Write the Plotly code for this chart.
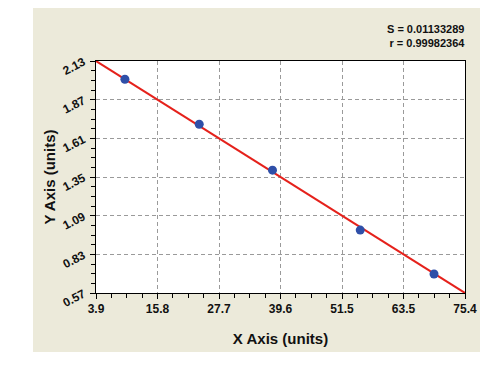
import plotly.graph_objects as go

# ---- data ----
x_vals = [9.5, 23.9, 38.1, 55.1, 69.4]
y_vals = [2.007, 1.705, 1.396, 0.993, 0.698]
fit_x = [3.9, 75.4]
fit_y = [2.13, 0.57]
x_ticks = [3.9, 15.8167, 27.7333, 39.65, 51.5667, 63.4833, 75.4]
x_ticklabels = ["3.9", "15.8", "27.7", "39.6", "51.5", "63.5", "75.4"]
y_ticks = [0.57, 0.83, 1.09, 1.35, 1.61, 1.87, 2.13]
y_ticklabels = ["0.57", "0.83", "1.09", "1.35", "1.61", "1.87", "2.13"]
stats_text = "S = 0.01133289<br>r = 0.99982364"

def minor_between(ticks, n=4):
    out = []
    for a, b in zip(ticks[:-1], ticks[1:]):
        for k in range(1, n):
            out.append(a + (b - a) * k / n)
    return out

FONT = "Liberation Sans, Arial, sans-serif"

fig = go.Figure()
fig.add_trace(go.Scatter(x=fit_x, y=fit_y, mode="lines",
                         line=dict(color="#E5211B", width=2), hoverinfo="skip",
                         showlegend=False))
fig.add_trace(go.Scatter(x=x_vals, y=y_vals, mode="markers",
                         marker=dict(color="#2F4FA8", size=9, symbol="circle"),
                         showlegend=False, cliponaxis=False))

# panel background
fig.add_shape(type="rect", xref="paper", yref="paper", x0=-0.1707, x1=1.0407,
              y0=-0.254, y1=1.228, fillcolor="#ECEADA", line=dict(width=0), layer="below")
fig.add_shape(type="rect", xref="paper", yref="paper", x0=0, x1=1, y0=0, y1=1,
              fillcolor="white", line=dict(width=0), layer="below")

fig.add_annotation(xref="paper", yref="paper", x=1.005, y=1.045, xanchor="right",
                   yanchor="bottom", align="right", showarrow=False, text=stats_text,
                   font=dict(family=FONT, size=11, color="#111"))

axis_common = dict(showline=True, linecolor="black", linewidth=1, mirror=True,
                   ticks="outside", ticklen=5, tickcolor="black",
                   showgrid=True, gridcolor="#9A9A9A", griddash="4px,3px", gridwidth=1,
                   zeroline=False)

fig.update_xaxes(range=[3.9, 75.4], tickmode="array", tickvals=x_ticks,
                 ticktext=x_ticklabels,
                 minor=dict(tickmode="array", tickvals=minor_between(x_ticks),
                            ticks="outside", ticklen=4, tickcolor="black", showgrid=False),
                 title=dict(text="<b>X Axis (units)</b>", font=dict(family=FONT, size=15, color="#111"),
                            standoff=18),
                 **axis_common)
fig.update_yaxes(range=[0.57, 2.13], tickmode="array", tickvals=y_ticks,
                 ticktext=y_ticklabels, tickangle=-27, ticklabelstandoff=4,
                 minor=dict(tickmode="array", tickvals=minor_between(y_ticks),
                            ticks="outside", ticklen=4, tickcolor="black", showgrid=False),
                 title=dict(text="<b>Y Axis (units)</b>", font=dict(family=FONT, size=15, color="#111"),
                            standoff=1),
                 **axis_common)
fig.update_xaxes(tickfont=dict(family=FONT, size=12, color="#111", weight="bold"))
fig.update_yaxes(tickfont=dict(family=FONT, size=12, color="#111", weight="bold"))

# page has an 8px body margin, so the margins are shifted to compensate
fig.update_layout(width=496, height=365, margin=dict(l=88, r=39, t=53, b=80),
                  paper_bgcolor="white", plot_bgcolor="white",
                  font=dict(family=FONT, weight="bold"))
fig.update_annotations(font=dict(weight="bold"))

fig.write_html("out.html")
